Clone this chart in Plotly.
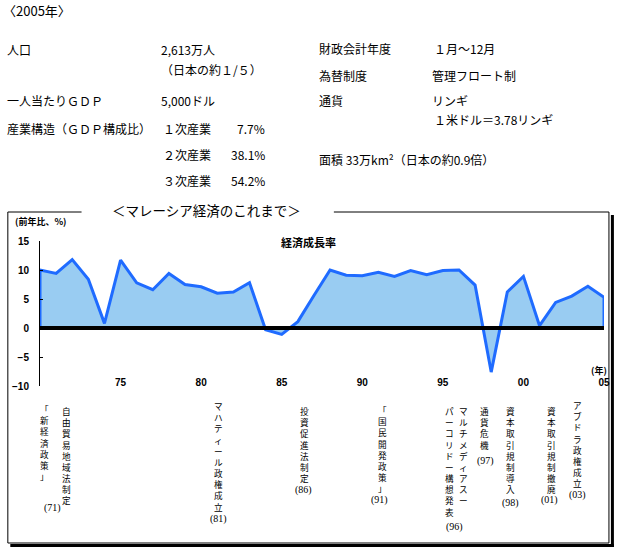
import plotly.graph_objects as go

# ---------------- data ----------------
years = list(range(1970, 2006))
growth = [10.0, 9.4, 11.8, 8.4, 0.8, 11.7, 7.8, 6.6, 9.4, 7.5,
          7.1, 6.0, 6.2, 7.8, -0.3, -1.1, 1.1, 5.6, 10.0, 9.1,
          9.0, 9.6, 8.9, 9.9, 9.2, 9.9, 10.0, 7.4, -7.6, 6.2,
          8.9, 0.4, 4.4, 5.5, 7.2, 5.3]
xtick_years = [1975, 1980, 1985, 1990, 1995, 2000, 2005]
xtick_labels = ["75", "80", "85", "90", "95", "00", "05"]
ytick_vals = [-10, -5, 0, 5, 10, 15]

header_title = "〈2005年〉"
header_texts = ["人口", "2,613万人", "（日本の約１/５）", "一人当たりＧＤＰ", "5,000ドル",
                "産業構造（ＧＤＰ構成比）", "１次産業", "２次産業", "３次産業",
                "財政会計年度", "１月～12月", "為替制度", "管理フロート制",
                "通貨", "リンギ", "１米ドル＝3.78リンギ", "面積 33万km²（日本の約0.9倍）"]
industry_shares = ["7.7%", "38.1%", "54.2%"]

chart_title = "＜マレーシア経済のこれまで＞"
series_name = "経済成長率"
y_unit = "(前年比、%)"
x_unit = "(年)"

event_texts = ["「新経済政策」", "自由貿易地域法制定", "マハティール政権成立", "投資促進法制定",
               "「国民開発政策」", "マルチメディアスー", "パーコリドー構想発表", "通貨危機",
               "資本取引規制導入", "資本取引規制撤廃", "アブドラ政権成立"]
event_years = ["(71)", "(81)", "(86)", "(91)", "(96)", "(97)", "(98)", "(01)", "(03)"]

# ---------------- layout helpers (pixel -> paper) ----------------
L, T, W, H = 40, 241, 570, 145
def px(x):
    return (x - L) / W
def py(y):
    return 1 - (y - T) / H

CJK = "Noto Sans CJK JP"
fig = go.Figure()

fig.add_trace(go.Scatter(
    x=[years[0]] + years + [years[-1]], y=[0] + growth + [0],
    mode="lines", fill="toself", fillcolor="#99CCF2",
    line=dict(color="#1F6BFF", width=3), hoverinfo="skip"))
fig.add_trace(go.Scatter(
    x=years, y=[0] * len(years), mode="lines",
    line=dict(color="black", width=4), hoverinfo="skip"))

ann = []
def add(text, x, y, size=12, xanchor="left", yanchor="middle", family=CJK, weight="normal"):
    ann.append(dict(text=text, x=px(x), y=py(y), xref="paper", yref="paper",
                    xanchor=xanchor, yanchor=yanchor, showarrow=False,
                    font=dict(family=family, size=size, color="black", weight=weight)))

# header
add(header_title, 1, 10, size=13)
hdr_pos = [(5, 49), (160, 49), (160, 69), (5, 101), (160, 101),
           (5, 128), (162, 128), (162, 154), (162, 180),
           (320, 48), (436, 48), (320, 75), (434, 75),
           (320, 101), (434, 101), (436, 120), (320, 159)]
for t, (x, y) in zip(header_texts, hdr_pos):
    add(t, x, y)
for t, y in zip(industry_shares, [128, 154, 180]):
    add(t, 269, y, xanchor="right")

# chart titles
add(chart_title, 208, 210, size=13.5, xanchor="center")
add(series_name, 311, 242, size=11, xanchor="center", weight="bold")
add(y_unit, 41, 221, size=9, xanchor="center", weight="bold")
add(x_unit, 605, 370, size=9, xanchor="center", weight="bold")

# vertical event labels
ev_pos = [(45, 401), (67, 403), (220, 398), (307, 403), (386, 402), (468, 403),
          (454, 403), (489, 403), (516, 403), (557, 403), (583, 397)]
for t, (x, y) in zip(event_texts, ev_pos):
    add("<br>".join(list(t)), x, y, size=8.6, xanchor="center", yanchor="top")
yr_pos = [(53, 508), (220, 519), (306, 490), (383, 500), (459, 527),
          (490, 461), (515, 503), (555, 500), (583, 495)]
for t, (x, y) in zip(event_years, yr_pos):
    add(t, x, y, size=10, xanchor="center", family="Liberation Serif")

# frame with shadow
shapes = []
def line(x0, y0, x1, y1, w=1):
    shapes.append(dict(type="line", xref="paper", yref="paper",
                       x0=px(x0), y0=py(y0), x1=px(x1), y1=py(y1),
                       line=dict(color="black", width=w)))
line(7.5, 212, 7.5, 543)
line(7.5, 212, 82, 212)
line(337, 212, 615, 212)
line(615, 212, 615, 543)
line(7.5, 543, 615, 543)
line(618.5, 215, 618.5, 547, 3)
line(10, 545.5, 620, 545.5, 3)

fig.update_layout(
    width=622, height=550,
    margin=dict(l=L, r=622 - L - W, t=T, b=550 - T - H),
    paper_bgcolor="white", plot_bgcolor="white",
    showlegend=False, annotations=ann, shapes=shapes,
    xaxis=dict(range=[years[0], years[-1]], showgrid=False, zeroline=False,
               showline=False, ticks="", tickvals=xtick_years, ticktext=xtick_labels,
               anchor="free", position=py(375),
               tickfont=dict(family="Liberation Sans", size=10, color="black", weight="bold")),
    yaxis=dict(range=[-10, 15], showgrid=False, zeroline=False, showline=True,
               linecolor="black", linewidth=1, ticks="inside", ticklen=3,
               tickcolor="black", tickvals=ytick_vals, ticklabelstandoff=8,
               tickfont=dict(family="Liberation Sans", size=10, color="black", weight="bold")),
)

fig.write_html("out.html")
